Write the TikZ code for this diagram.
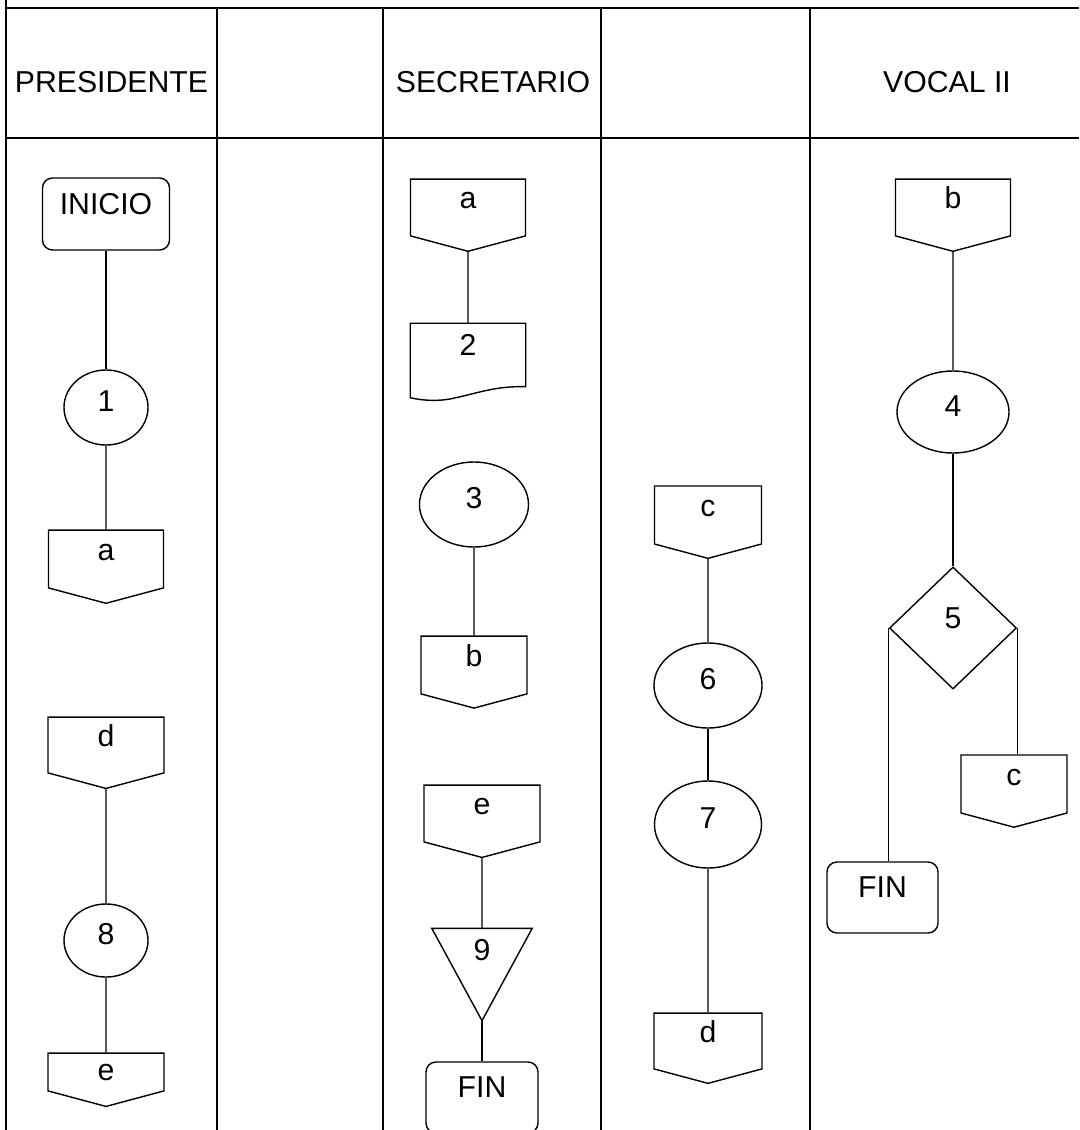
\documentclass[tikz,border=0pt]{standalone}
\usepackage{fontspec}
\setmainfont{Liberation Sans}
\usetikzlibrary{shapes.geometric,shapes.symbols}

\begin{document}
\begin{tikzpicture}[x=0.025cm,y=-0.025cm,
    every node/.style={font=\fontsize{21.5}{26}\selectfont, inner sep=0pt, line width=1pt},
    grid/.style={line width=2pt},
    link/.style={line width=1pt},
    term/.style={draw, rectangle, rounded corners=0.25cm, text height=0.55cm, text depth=0.55cm},
    proc/.style={draw, ellipse, text height=0.55cm, text depth=0.35cm},
    offpage/.style={draw, signal, signal to=south, signal pointer angle=150, text height=0.55cm, text depth=0.5cm},
    decis/.style={draw, diamond, text height=0.55cm, text depth=0.55cm}]

  \useasboundingbox (0,0) rectangle (1079,1130);

  % Table
  \draw[grid] (6,0) -- (6,1130);
  \draw[grid] (6,8) -- (1079,8);
  \draw[grid] (6,138) -- (1079,138);
  \foreach \x in {217,383,601,810}
    \draw[grid] (\x,8) -- (\x,1130);

  % Headers
  \node[anchor=base] (hpres) at (111.5,93) {PRESIDENTE};
  \node[anchor=base] (hsec)  at (493,93)   {SECRETARIO};
  \node[anchor=base] (hvoc)  at (947,93)   {VOCAL II};

  % Presidente
  \node[term, minimum width=3.175cm, minimum height=1.8cm]   (inicio) at (106,214)   {INICIO};
  \node[proc, minimum width=2.1cm, minimum height=1.875cm]   (p1)     at (106,407.5) {1};
  \node[offpage, minimum width=2.875cm, minimum height=1.5cm] (pa)    at (106,559)   {a};
  \node[offpage, minimum width=2.9cm, minimum height=1.45cm]  (pd)    at (106,745)   {d};
  \node[proc, minimum width=2.1cm, minimum height=1.825cm]   (p8)     at (106,940.5) {8};
  \node[offpage, minimum width=2.9cm, minimum height=1cm, text depth=0.15cm] (pe) at (106,1072) {e};

  % Secretario
  \node[offpage, minimum width=2.875cm, minimum height=1.475cm] (sa) at (468,207.5) {a};
  \node[minimum width=2.85cm, minimum height=1.55cm, text height=0.55cm, text depth=0.55cm] (doc2) at (468,355) {2};
  \node[proc, minimum width=2.725cm, minimum height=2.125cm]    (p3) at (474,504.5) {3};
  \node[offpage, minimum width=2.65cm, minimum height=1.5cm]    (sb) at (474,665)   {b};
  \node[offpage, minimum width=2.9cm, minimum height=1.475cm]   (se) at (482,813.5) {e};
  \node[minimum width=2.475cm, minimum height=2.275cm, text height=0.55cm, text depth=1.275cm] (t9) at (482,974.5) {9};
  \node[term, minimum width=2.8cm, minimum height=1.775cm]      (fin1) at (482,1097.5) {FIN};

  \draw[link] (doc2.north west) -- (doc2.north east) -- (doc2.south east)
    .. controls +(-30,-1) and +(20,-4) .. ++(-70,11)
    .. controls +(-15,4) and +(12,3) .. ([yshift=-0.275cm]doc2.south west) -- cycle;
  \draw[link] (t9.north west) -- (t9.north east) -- (t9.south) -- cycle;

  % Columna 4
  \node[offpage, minimum width=2.675cm, minimum height=1.5cm] (sc) at (708,515)   {c};
  \node[proc, minimum width=2.7cm, minimum height=2.125cm]    (p6) at (708,685.5) {6};
  \node[proc, minimum width=2.675cm, minimum height=2.175cm]  (p7) at (708,824.5) {7};
  \node[offpage, minimum width=2.7cm, minimum height=1.45cm]  (sd) at (708,1041)  {d};

  % Vocal II
  \node[offpage, minimum width=2.875cm, minimum height=1.475cm] (vb) at (953,207.5) {b};
  \node[proc, minimum width=2.8cm, minimum height=2.05cm]       (p4) at (953,412)   {4};
  \node[decis, minimum width=3.175cm, minimum height=3.05cm]    (d5) at (953,628)   {5};
  \node[offpage, minimum width=2.65cm, minimum height=1.5cm]    (vc) at (1014,784)  {c};
  \node[term, minimum width=2.775cm, minimum height=1.775cm]    (fin2) at (882.5,897.5) {FIN};

  % Connectors
  \draw[link] (inicio) -- (p1);
  \draw[link] (p1) -- (pa);
  \draw[link] (pd) -- (p8);
  \draw[link] (p8) -- (pe);
  \draw[link] (sa) -- (doc2);
  \draw[link] (p3) -- (sb);
  \draw[link] (se) -- (t9.north);
  \draw[link] (t9.south) -- (fin1);
  \draw[link] (sc) -- (p6);
  \draw[link] (p6) -- (p7);
  \draw[link] (p7) -- (sd);
  \draw[link] (vb) -- (p4);
  \draw[link] (p4) -- (d5);
  \draw[link] (d5.west) -- (d5.west |- fin2.north);
  \draw[link] (d5.east) -- (d5.east |- vc.north);

\end{tikzpicture}
\end{document}
